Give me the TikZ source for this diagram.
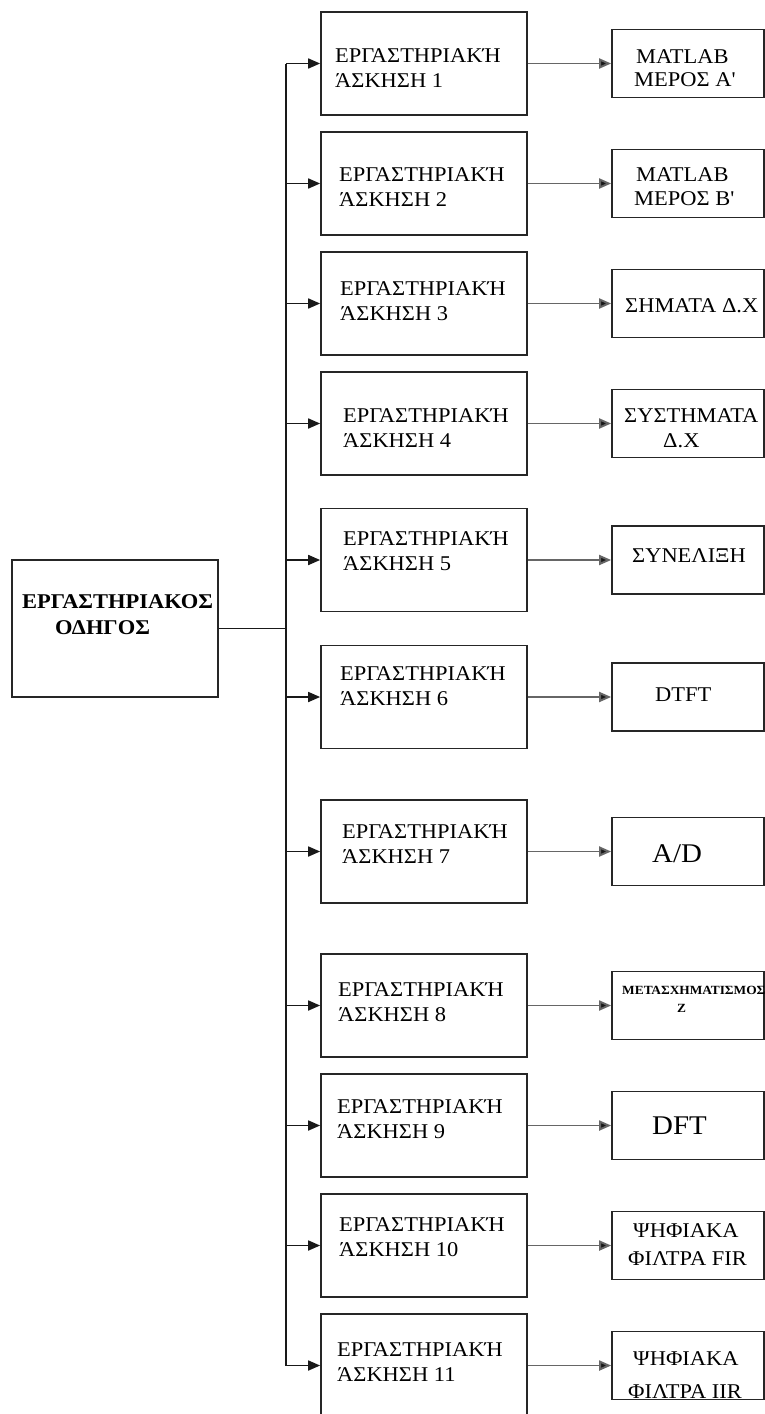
\documentclass[tikz,border=0pt]{standalone}
\usepackage{fontspec}
\setmainfont{Liberation Serif}[FakeStretch=1.07]
\usetikzlibrary{arrows.meta}
\tikzset{
  lbox/.style={draw=black!85, line width=1.7pt, minimum width=206pt, minimum height=103pt, inner sep=0pt},
  rbox/.style={draw=black!85, line width=1.7pt, minimum width=152pt, minimum height=68pt, inner sep=0pt},
  mbox/.style={draw=black!85, line width=1.7pt, minimum width=206pt, minimum height=137pt, inner sep=0pt},
  txt/.style={inner sep=0pt, anchor=base west, font=\fontsize{21}{25}\selectfont},
  bigtxt/.style={inner sep=0pt, anchor=base west, font=\fontsize{27}{32}\selectfont},
  boldtxt/.style={inner sep=0pt, anchor=base west, font=\fontsize{21}{24}\selectfont\bfseries},
  tinytxt/.style={inner sep=0pt, anchor=base west, font=\fontsize{12.5}{15}\selectfont\bfseries},
  arr/.style={line width=1.7pt, draw=black!90, -{Triangle[length=12pt,width=10pt]}},
  rarr/.style={line width=1.9pt, draw=black!60, -{Triangle[length=12pt,width=10pt,fill=black!90]}},
  conn/.style={line width=1.7pt, draw=black!90}
}
\begin{document}
\begin{tikzpicture}[x=1pt,y=-1pt]
\clip (0,0) rectangle (765,1414);
% main box
\node[mbox] (M) at (115,628.5) {};
\node[boldtxt] (Ma) at (22,608) {ΕΡΓΑΣΤΗΡΙΑΚΟΣ};
\node[boldtxt] (Mb) at (55,634) {ΟΔΗΓΟΣ};
% left column boxes
\foreach \i/\cy/\tx/\bl in {1/63.5/335/62, 2/183.5/339/181, 3/303.5/340/295, 4/423.5/343/422,
  5/560/343/545, 6/697/340/680, 7/851.5/342/838, 8/1005.5/338/996, 9/1125.5/337/1113,
  10/1245.5/339/1231, 11/1365.5/337/1356}{
  \node[lbox] (B\i) at (424,\cy) {};
  \node[txt] (B\i a) at (\tx,\bl) {ΕΡΓΑΣΤΗΡΙΑΚΉ};
  \node[txt] (B\i b) at (\tx,\bl+25) {ΆΣΚΗΣΗ \i};
}
% right column boxes
\foreach \i/\cy in {1/63.5, 2/183.5, 3/303.5, 4/423.5, 5/560, 6/697, 7/851.5, 8/1005.5, 9/1125.5, 10/1245.5, 11/1365.5}{
  \node[rbox] (R\i) at (688,\cy) {};
}
\node[txt] (R1a) at (636,63) {MATLAB};
\node[txt] (R1b) at (634,86) {ΜΕΡΟΣ Α\textquotesingle};
\node[txt] (R2a) at (636,181) {MATLAB};
\node[txt] (R2b) at (634,205) {ΜΕΡΟΣ Β\textquotesingle};
\node[txt] (R3a) at (625,312) {ΣΗΜΑΤΑ Δ.Χ};
\node[txt] (R4a) at (624,422) {ΣΥΣΤΗΜΑΤΑ};
\node[txt] (R4b) at (663,447) {Δ.Χ};
\node[txt] (R5a) at (632,562) {ΣΥΝΕΛΙΞΗ};
\node[txt] (R6a) at (655,701) {DTFT};
\node[bigtxt] (R7a) at (652,862) {A/D};
\node[tinytxt] (R8a) at (622,994) {ΜΕΤΑΣΧΗΜΑΤΙΣΜΟΣ};
\node[tinytxt] (R8b) at (677,1012) {Z};
\node[bigtxt] (R9a) at (652,1134) {DFT};
\node[txt] (R10a) at (633,1237) {ΨΗΦΙΑΚΑ};
\node[txt] (R10b) at (628,1265) {ΦΙΛΤΡΑ FIR};
\node[txt] (R11a) at (633,1365) {ΨΗΦΙΑΚΑ};
\node[txt] (R11b) at (628,1398) {ΦΙΛΤΡΑ IIR};
% trunk
\coordinate (T1) at (286,63.5);
\coordinate (T11) at (286,1365.5);
\draw[conn] (M.east) -- (M.east -| T1);
\draw[conn, line join=miter] (T1) -- (T11);
\foreach \i in {1,...,11}{
  \draw[arr] (B\i.west -| T1) -- (B\i.west);
  \draw[rarr] (B\i.east) -- (R\i.west |- B\i.east);
}
\end{tikzpicture}
\end{document}
